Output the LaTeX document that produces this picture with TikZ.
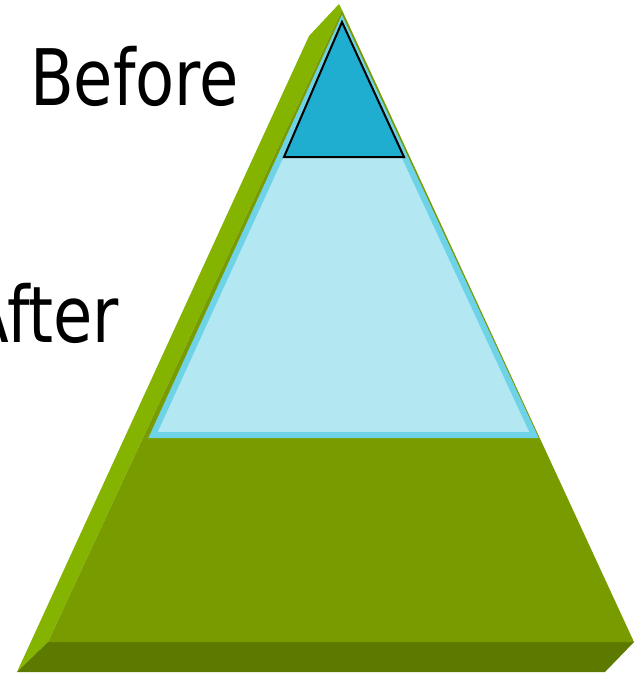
\documentclass[tikz,border=0pt]{standalone}
\usepackage{fontspec}
\newfontfamily\lblfont[FakeStretch=0.91]{DejaVu Sans Condensed}
\definecolor{frontgreen}{RGB}{120,156,0}
\definecolor{bevelgreen}{RGB}{132,180,0}
\definecolor{basegreen}{RGB}{92,122,0}
\definecolor{lightblue}{RGB}{179,232,243}
\definecolor{cyanborder}{RGB}{111,211,232}
\definecolor{topcyan}{RGB}{31,173,208}
\tikzset{
  lbl/.style={font=\lblfont\fontsize{78}{80}\selectfont, inner sep=0pt, text=black},
}
\begin{document}
\begin{tikzpicture}[x=1pt,y=-1pt]
\useasboundingbox (0,0) rectangle (640,675);
\clip (0,0) rectangle (640,675);
% left bevel
\fill[bevelgreen] (342,10) -- (339,4) -- (309,36) -- (17,672) -- (48,642) -- cycle;
% bottom slab
\fill[basegreen] (48,642) -- (634,642) -- (605,672) -- (17,672) -- cycle;
% front face
\fill[frontgreen] (342,10) -- (634,642) -- (48,642) -- cycle;
% light blue layer
\draw[line width=6pt, draw=cyanborder, fill=lightblue, line join=miter]
  (342,22) -- (534,435) -- (153,435) -- cycle;
% top dark cyan triangle
\draw[line width=2pt, draw=black, fill=topcyan, line join=miter]
  (342,22) -- (404,157) -- (284,157) -- cycle;
% labels
\node[lbl, anchor=base east] (before) at (239,105) {Before};
\node[lbl, anchor=base east] (after) at (119,342) {After};
\end{tikzpicture}
\end{document}
